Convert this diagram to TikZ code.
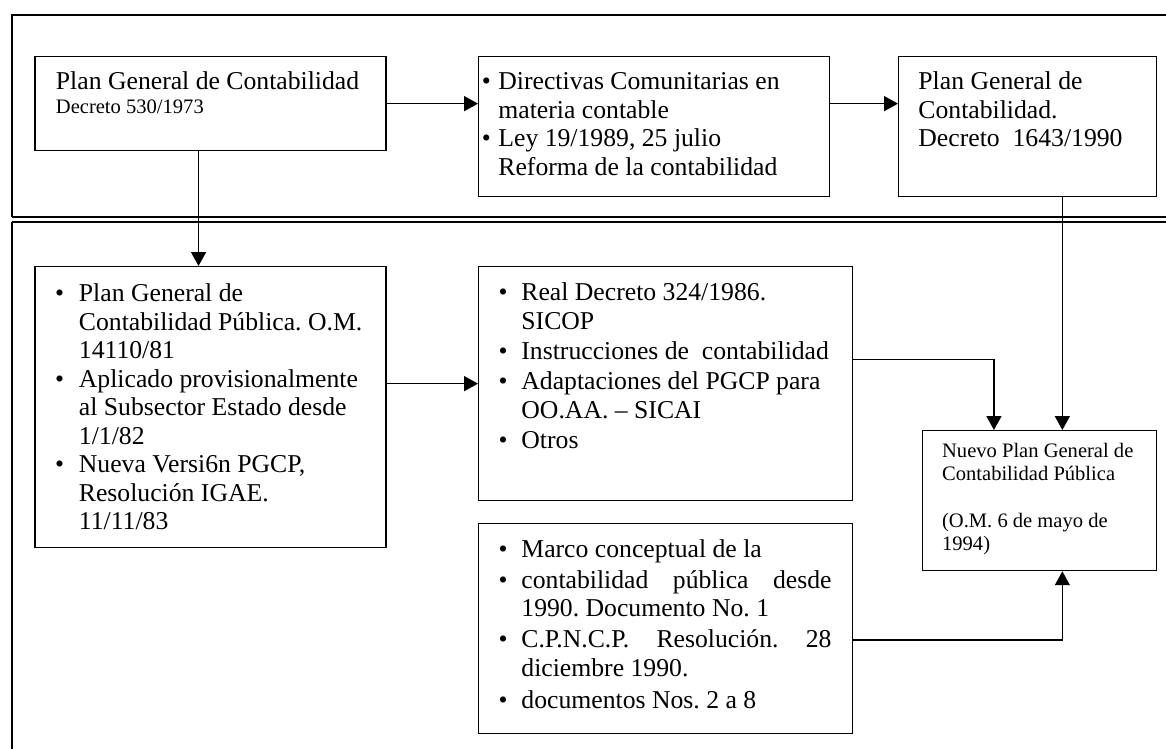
\documentclass[tikz,border=0pt]{standalone}
\usepackage{fontspec}
\setmainfont{Liberation Serif}
\usetikzlibrary{arrows.meta,calc}
\frenchspacing
\newcommand\pxu{0.467pt}
\newcommand\bul[1]{\leavevmode\llap{\textbullet\hspace{#1}}}
\begin{document}
\begin{tikzpicture}[x=0.467pt,y=-0.467pt,
  box/.style={draw, line width=0.6pt, rectangle, inner sep=0pt, anchor=north west},
  txt/.style={anchor=base west, inner sep=0pt, font=\fontsize{12pt}{13.33pt}\selectfont},
  smalltxt/.style={anchor=base west, inner sep=0pt, font=\fontsize{9.6pt}{10.9pt}\selectfont},
  arr/.style={line width=0.6pt, -{Triangle[length=6.5pt,width=7pt]}},
  framel/.style={line width=0.75pt},
  dbl/.style={line width=0.8pt}]
\useasboundingbox (0,0) rectangle (1166,749);
\clip (0,0) rectangle (1166,749);
% frames
\draw[framel] (1200,15) -- (11.7,15) -- (11.7,217.3);
\draw[dbl] (11.7,217.3) -- (1200,217.3);
\draw[dbl] (1200,222.3) -- (11.7,222.3);
\draw[framel] (11.7,222.3) -- (11.7,800);
% boxes
\node[box, minimum width=351*\pxu, minimum height=94*\pxu] (B1) at (34.4,56) {};
\node[box, minimum width=350.5*\pxu, minimum height=140*\pxu] (B2) at (478,56) {};
\node[box, minimum width=257.5*\pxu, minimum height=140*\pxu] (B3) at (898,56) {};
\node[box, minimum width=351*\pxu, minimum height=280.5*\pxu] (B4) at (34.4,266) {};
\node[box, minimum width=374*\pxu, minimum height=234*\pxu] (B5) at (478,266) {};
\node[box, minimum width=374*\pxu, minimum height=210*\pxu] (B6) at (478,523) {};
\node[box, minimum width=234*\pxu, minimum height=140*\pxu] (B7) at (921.7,430) {};
% texts
\node[txt] (T1a) at (55.5,89.3) {Plan General de Contabilidad};
\node[smalltxt] (T1b) at (55.5,113.3) {Decreto 530/1973};
\node[txt] (T2) at (498,89.7) {\parbox[t]{200pt}{\bul{3.5pt}Directivas Comunitarias en\\
materia contable\\
\bul{3.5pt}Ley 19/1989, 25 julio\\
Reforma de la contabilidad}};
\node[txt] (T3) at (918,89.7) {\parbox[t]{150pt}{Plan General de\\
Contabilidad.\\
Decreto\ \ 1643/1990}};
\node[txt] (T4) at (78.5,301.5) {\parbox[t]{200pt}{\bul{6.9pt}Plan General de\\
Contabilidad Pública. O.M.\\
14110/81\\
\bul{6.9pt}Aplicado provisionalmente\\
al Subsector Estado desde\\
1/1/82\\
\bul{6.9pt}Nueva Versi6n PGCP,\\
Resolución IGAE.\\
11/11/83}};
\node[txt] (T5) at (521,301) {\parbox[t]{200pt}{\bul{6.5pt}Real Decreto 324/1986.\\
SICOP\\[0.7pt]
\bul{6.5pt}Instrucciones de\ \ contabilidad\\[0.7pt]
\bul{6.5pt}Adaptaciones del PGCP para\\
OO.AA. – SICAI\\[0.7pt]
\bul{6.5pt}Otros}};
\node[txt] (T6) at (521,557) {\parbox[t]{200pt}{\bul{6.5pt}Marco conceptual de la\\[1.5pt]
\bul{6.5pt}\makebox[144.8pt][s]{contabilidad pública desde}\\[-0.5pt]
1990. Documento No. 1\\[1.5pt]
\bul{6.5pt}\makebox[144.8pt][s]{C.P.N.C.P. Resolución. 28}\\
diciembre 1990.\\[1.5pt]
\bul{6.5pt}documentos Nos. 2 a 8}};
\node[smalltxt] (T7) at (941.7,457) {\parbox[t]{110pt}{Nuevo Plan General de\\
Contabilidad Pública\\[10.9pt]
(O.M. 6 de mayo de\\
1994)}};
% connectors
\draw[arr] (B1.east) -- (B2.west |- B1.east);
\draw[arr] (B2.east |- B1.east) -- (B3.west |- B1.east);
\draw[arr] ([xshift=-12*\pxu]B1.south) -- ([xshift=-12*\pxu]B4.north);
\draw[arr] (B4.east |- B5.west) -- (B5.west);
\draw[arr] ([yshift=24*\pxu]B5.east) -| ([xshift=-45.4*\pxu]B7.north);
\draw[arr] ([xshift=23*\pxu]B7.north |- B3.south) -- ([xshift=23*\pxu]B7.north);
\draw[arr] ([yshift=-11.3*\pxu]B6.east) -| ([xshift=23*\pxu]B7.south);
\end{tikzpicture}
\end{document}
